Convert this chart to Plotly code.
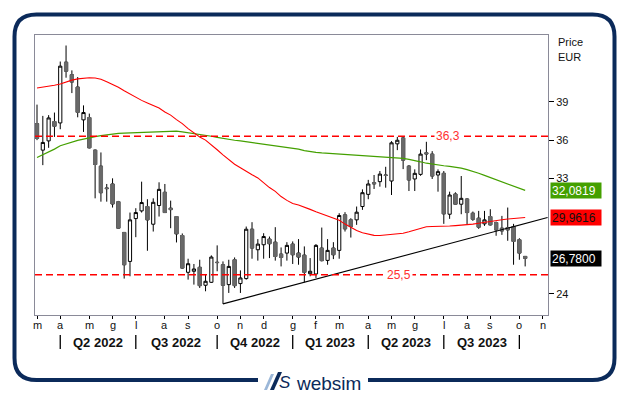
import plotly.graph_objects as go
import pandas as pd

# ---------------- data ----------------
dates = pd.date_range("2022-03-04", periods=85, freq="7D")

opens = [37.29, 35.22, 35.94, 37.45, 37.34, 42.08, 41.10, 40.14, 37.58, 37.76,
         35.22, 33.97, 32.27, 32.58, 31.20, 28.80, 26.54, 29.88, 30.48, 30.82,
         29.44, 30.90, 31.93, 30.69, 30.04, 28.56, 25.69, 25.77, 26.08, 24.68,
         24.91, 26.47, 26.28, 24.73, 26.67, 24.81, 25.20, 29.05, 27.45, 27.84,
         28.28, 28.04, 27.11, 27.19, 27.89, 27.19, 27.03, 25.58, 25.56, 27.58,
         26.62, 27.58, 27.40, 30.17, 29.78, 29.78, 30.82, 31.77, 32.68, 32.76,
         33.28, 32.81, 35.71, 36.17, 33.97, 32.97, 33.33, 35.01, 34.91, 33.28,
         33.41, 30.22, 31.80, 31.00, 31.41, 30.30, 29.91, 29.47, 30.04, 29.57,
         29.13, 29.18, 29.26, 28.23, 26.93]
highs = [38.77, 37.89, 37.95, 38.15, 42.13, 43.38, 41.44, 40.92, 38.71, 38.07,
         35.27, 35.04, 32.58, 33.02, 31.26, 28.80, 30.35, 30.69, 32.76, 31.39,
         31.46, 32.71, 32.58, 31.28, 30.04, 28.72, 26.75, 26.34, 26.67, 25.56,
         27.01, 27.79, 26.54, 26.67, 26.85, 25.84, 29.26, 29.60, 28.28, 28.74,
         28.48, 29.21, 27.63, 28.04, 28.10, 28.28, 27.71, 26.80, 27.89, 29.18,
         28.28, 28.04, 30.30, 30.38, 29.91, 30.82, 32.16, 32.90, 33.28, 33.59,
         33.92, 35.92, 36.25, 36.25, 34.05, 33.72, 35.27, 35.87, 35.14, 33.72,
         33.59, 31.98, 31.93, 33.20, 31.46, 30.43, 30.48, 30.48, 30.61, 29.65,
         30.09, 30.74, 29.47, 28.35, 26.93]
lows = [36.00, 34.05, 35.40, 36.25, 36.85, 40.87, 39.67, 37.78, 36.64, 35.35,
        31.46, 31.20, 31.20, 30.74, 29.08, 25.20, 25.38, 28.43, 30.35, 27.37,
        28.87, 30.04, 30.35, 29.13, 28.02, 25.97, 25.12, 24.73, 24.47, 24.21,
        24.86, 25.77, 23.23, 24.08, 24.47, 24.08, 25.12, 26.75, 26.60, 26.75,
        26.80, 26.60, 26.15, 26.60, 26.34, 26.28, 24.91, 25.38, 25.25, 26.54,
        26.28, 26.72, 26.75, 28.87, 28.40, 29.39, 30.56, 31.39, 32.19, 32.37,
        32.29, 31.72, 35.22, 33.74, 32.03, 32.03, 33.22, 34.44, 32.97, 31.98,
        29.47, 29.86, 30.95, 30.22, 29.44, 29.70, 29.08, 29.31, 29.34, 28.54,
        28.61, 28.15, 26.28, 26.67, 26.15]
closes = [36.13, 35.82, 37.73, 37.08, 41.77, 41.38, 40.53, 38.17, 38.15, 35.40,
          34.10, 31.90, 32.22, 31.02, 29.13, 26.28, 29.78, 30.35, 31.13, 29.78,
          31.15, 32.16, 30.35, 30.58, 28.69, 26.02, 26.36, 25.95, 24.65, 24.99,
          26.88, 26.45, 24.68, 26.15, 24.65, 25.25, 29.05, 27.58, 27.89, 28.48,
          27.92, 26.93, 26.85, 27.79, 27.06, 26.88, 25.69, 25.77, 27.79, 26.60,
          27.40, 27.06, 30.12, 29.08, 29.26, 30.38, 31.90, 32.58, 32.60, 33.35,
          33.25, 35.79, 35.99, 34.44, 32.89, 33.41, 34.91, 34.93, 33.20, 33.54,
          30.25, 31.72, 31.00, 31.46, 30.35, 29.83, 29.21, 29.78, 29.39, 29.00,
          28.92, 29.00, 28.10, 27.19, 26.78]

ma_red = [40.06, 40.12, 40.20, 40.28, 40.38, 40.55, 40.68, 40.78, 40.85, 40.87,
          40.85, 40.75, 40.55, 40.35, 40.12, 39.85, 39.58, 39.35, 39.10, 38.90,
          38.70, 38.50, 38.20, 37.95, 37.60, 37.29, 36.90, 36.55, 36.25, 36.00,
          35.65, 35.25, 34.85, 34.45, 34.12, 33.85, 33.55, 33.30, 33.05, 32.65,
          32.30, 32.00, 31.60, 31.30, 31.05, 30.94, 30.80, 30.60, 30.42, 30.25,
          30.10, 29.95, 29.75, 29.45, 29.20, 28.95, 28.78, 28.65, 28.57, 28.56,
          28.60, 28.63, 28.70, 28.74, 28.85, 28.98, 29.12, 29.24, 29.26, 29.26,
          29.28, 29.30, 29.33, 29.36, 29.39, 29.45, 29.52, 29.60, 29.66, 29.72,
          29.79, 29.85, 29.90, 29.93, 29.96]
ma_green = [34.65, 34.85, 35.10, 35.30, 35.56, 35.72, 35.85, 35.98, 36.08, 36.20,
            36.28, 36.35, 36.42, 36.49, 36.52, 36.55, 36.57, 36.57, 36.57, 36.58,
            36.62, 36.65, 36.68, 36.71, 36.70, 36.65, 36.59, 36.53, 36.46, 36.38,
            36.30, 36.22, 36.13, 36.05, 35.99, 35.94, 35.88, 35.82, 35.76, 35.70,
            35.64, 35.58, 35.52, 35.45, 35.38, 35.30, 35.18, 35.10, 35.05, 35.00,
            34.97, 34.95, 34.93, 34.90, 34.86, 34.83, 34.81, 34.78, 34.76, 34.74,
            34.70, 34.66, 34.61, 34.57, 34.50, 34.42, 34.31, 34.20, 34.12, 34.05,
            34.00, 33.95, 33.90, 33.82, 33.70, 33.57, 33.42, 33.25, 33.08, 32.95,
            32.80, 32.63, 32.45, 32.27, 32.08]

levels = [36.3, 25.5]
level_labels = ["36,3", "25,5"]
trend_dates = ["2022-10-14", "2023-11-09"]
trend_vals = [23.23, 29.96]

month_tick_dates = ["2022-03-04", "2022-04-01", "2022-05-06", "2022-06-03", "2022-07-01",
                    "2022-08-05", "2022-09-02", "2022-10-07", "2022-11-04", "2022-12-02",
                    "2023-01-06", "2023-02-03", "2023-03-03", "2023-04-07", "2023-05-05",
                    "2023-06-02", "2023-07-07", "2023-08-04", "2023-09-01", "2023-10-06",
                    "2023-11-03"]
month_letters = ["m", "a", "m", "g", "l", "a", "s", "o", "n", "d", "g",
                 "f", "m", "a", "m", "g", "l", "a", "s", "o", "n"]
quarter_bounds = ["2022-04-01", "2022-07-01", "2022-10-07", "2023-01-06",
                  "2023-04-07", "2023-07-07", "2023-10-06"]
quarter_labels = ["Q2 2022", "Q3 2022", "Q4 2022", "Q1 2023", "Q2 2023", "Q3 2023"]
y_ticks = [24, 33, 36, 39]

last_values = [32.0819, 29.9616, 26.78]
last_texts = ["32,0819", "29,9616", "26,7800"]

# ---------------- layout helpers (pixel -> paper) ----------------
W, H = 629, 395
L, R, T, B = 35, 548, 35, 315
def px(x):
    return (x - L) / (R - L)
def py(y):
    return (B - y) / (B - T)

NAVY = "#0b2a5a"
GRAY = "#696969"
FONT = "Liberation Sans, Arial"

fig = go.Figure()

# candles (black wick + outline)
fig.add_trace(go.Candlestick(
    x=dates, open=opens, high=highs, low=lows, close=closes,
    increasing=dict(line=dict(color="black", width=1), fillcolor="white"),
    decreasing=dict(line=dict(color="black", width=1), fillcolor=GRAY),
    whiskerwidth=0, hoverinfo="skip", showlegend=False))

# grey body overlay for falling candles
dn = [i for i in range(len(opens)) if closes[i] < opens[i]]
fig.add_trace(go.Candlestick(
    x=[dates[i] for i in dn], open=[opens[i] for i in dn],
    high=[opens[i] for i in dn], low=[closes[i] for i in dn],
    close=[closes[i] for i in dn],
    increasing=dict(line=dict(color=GRAY, width=1), fillcolor=GRAY),
    decreasing=dict(line=dict(color=GRAY, width=1), fillcolor=GRAY),
    whiskerwidth=0, hoverinfo="skip", showlegend=False))

fig.add_trace(go.Scatter(x=dates, y=ma_green, mode="lines",
                         line=dict(color="#44a000", width=1.2), hoverinfo="skip", showlegend=False))
fig.add_trace(go.Scatter(x=dates, y=ma_red, mode="lines",
                         line=dict(color="#ff0000", width=1.1), hoverinfo="skip", showlegend=False))
fig.add_trace(go.Scatter(x=trend_dates, y=trend_vals, mode="lines",
                         line=dict(color="black", width=1.1), hoverinfo="skip", showlegend=False))

shapes = []
annotations = []

# horizontal levels
lab_x = [448, 399]
for lv, lt, lx in zip(levels, level_labels, lab_x):
    shapes.append(dict(type="line", xref="paper", yref="y", x0=0, x1=1, y0=lv, y1=lv,
                       line=dict(color="#ff0000", width=1.6, dash="7px,4px"), layer="above"))
    annotations.append(dict(xref="paper", yref="y", x=px(lx), y=lv, text=lt, showarrow=False,
                            xanchor="center", yanchor="middle",
                            font=dict(family=FONT, size=12, color="#ff3030"),
                            bgcolor="white", borderpad=1))

# month letters under the axis ticks
for d, m in zip(pd.to_datetime(month_tick_dates), month_letters):
    annotations.append(dict(xref="x", yref="paper", x=d, y=py(325), text=m, showarrow=False,
                            xanchor="center", yanchor="middle",
                            font=dict(family=FONT, size=11, color="#111111")))

# quarter separators and labels
qb = pd.to_datetime(quarter_bounds)
for d in qb:
    shapes.append(dict(type="line", xref="x", yref="paper", x0=d, x1=d, y0=py(335), y1=py(349),
                       line=dict(color="black", width=1.3)))
for i, ql in enumerate(quarter_labels):
    mid = qb[i] + (qb[i + 1] - qb[i]) / 2
    annotations.append(dict(xref="x", yref="paper", x=mid, y=py(342), text="<b>%s</b>" % ql,
                            showarrow=False, xanchor="center", yanchor="middle",
                            font=dict(family=FONT, size=13, color="#111111")))

# last value boxes
box_cols = ["#44a000", "#ff0000", "#000000"]
txt_cols = ["white", "#111111", "white"]
for v, t, bc, tc in zip(last_values, last_texts, box_cols, txt_cols):
    annotations.append(dict(xref="paper", yref="y", x=px(550), y=v, xanchor="left", yanchor="middle",
                            text=t, showarrow=False, align="left", width=48, height=13,
                            bgcolor=bc, borderpad=1,
                            font=dict(family=FONT, size=12, color=tc)))

annotations.append(dict(xref="paper", yref="paper", x=px(556), y=py(42), xanchor="left",
                        yanchor="middle", text="Price", showarrow=False,
                        font=dict(family=FONT, size=11, color="#111")))
annotations.append(dict(xref="paper", yref="paper", x=px(556), y=py(57), xanchor="left",
                        yanchor="middle", text="EUR", showarrow=False,
                        font=dict(family=FONT, size=11, color="#111")))

# outer rounded frame with gap for logo
r = 22
fl, ft, fr, fb = 14.5, 14.5, 614.5, 380
g0, g1 = 258, 368
path = ("M {a},{b} L {c},{b} Q {d},{b} {d},{e} L {d},{f} Q {d},{g} {c},{g} "
        "L {h},{g} Q {i},{g} {i},{f} L {i},{e} Q {i},{b} {h},{b} L {j},{b}").format(
    a=px(g1), b=py(fb), c=px(fr - r), d=px(fr), e=py(fb - r), f=py(ft + r), g=py(ft),
    h=px(fl + r), i=px(fl), j=px(g0))
shapes.append(dict(type="path", xref="paper", yref="paper", path=path,
                   line=dict(color=NAVY, width=4)))

# logo
shapes.append(dict(type="path", xref="paper", yref="paper",
                   path="M {},{} L {},{} L {},{} L {},{} Z".format(
                       px(264), py(390), px(271), py(374), px(274), py(374), px(267), py(390)),
                   fillcolor="#9bb7d8", line=dict(width=0)))
shapes.append(dict(type="path", xref="paper", yref="paper",
                   path="M {},{} L {},{} L {},{} L {},{} Z".format(
                       px(270), py(390), px(278), py(372), px(282), py(372), px(274), py(390)),
                   fillcolor=NAVY, line=dict(width=0)))
annotations.append(dict(xref="paper", yref="paper", x=px(285), y=py(382), text="<i>S</i>",
                        xanchor="center", yanchor="middle",
                        showarrow=False, font=dict(family=FONT, size=17, color=NAVY)))
annotations.append(dict(xref="paper", yref="paper", x=px(363), y=py(383), text="websim",
                        xanchor="right", yanchor="middle",
                        showarrow=False, font=dict(family=FONT, size=19, color=NAVY)))

fig.update_layout(
    width=W, height=H,
    margin=dict(l=L, r=W - R, t=T, b=H - B),
    paper_bgcolor="white", plot_bgcolor="white",
    boxgap=0.45, boxgroupgap=0,
    showlegend=False,
    shapes=shapes, annotations=annotations,
    xaxis=dict(
        type="date", range=["2022-03-01 14:00", "2023-11-09 12:00"],
        rangeslider=dict(visible=False),
        tickvals=pd.to_datetime(month_tick_dates), ticktext=month_letters,
        showticklabels=False,
        ticks="outside", ticklen=3, tickcolor="black", tickwidth=1,
        showgrid=False, zeroline=False,
        showline=True, linecolor="#8a8a98", linewidth=1, mirror=True,
    ),
    yaxis=dict(
        side="right", range=[22.36, 44.2],
        tickvals=y_ticks, ticktext=[str(v) for v in y_ticks],
        ticks="outside", ticklen=5, tickcolor="black", tickwidth=1,
        tickfont=dict(family=FONT, size=11, color="#111"),
        showgrid=False, zeroline=False,
        showline=True, linecolor="#8a8a98", linewidth=1, mirror=True,
    ),
)

fig.write_html("out.html", config={"displayModeBar": False},
               post_script="document.body.style.margin='0';document.body.style.padding='0';")
